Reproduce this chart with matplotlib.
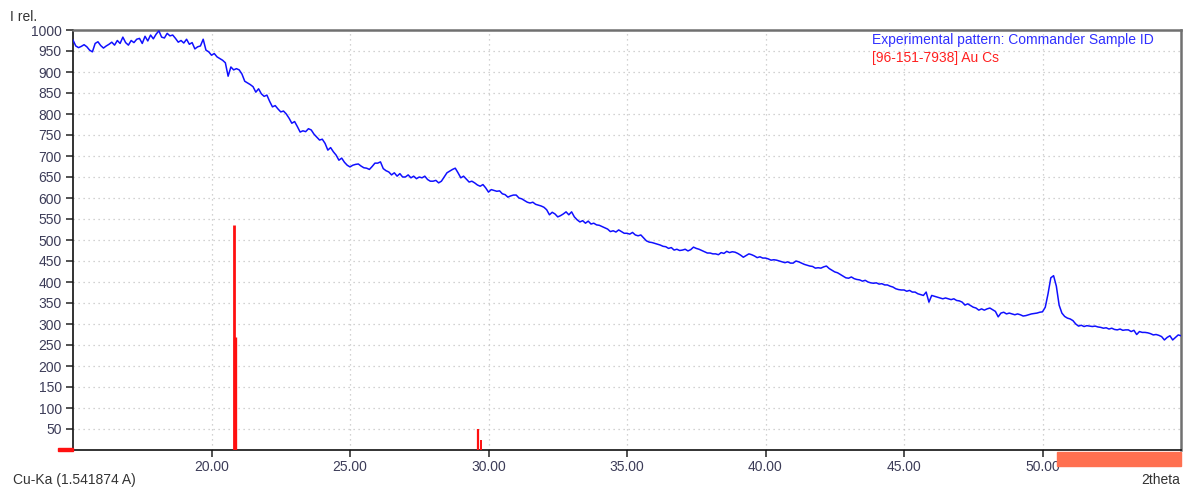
import numpy as np
import matplotlib
matplotlib.use('Agg')
import matplotlib.pyplot as plt
import matplotlib as mpl
from matplotlib.patches import Rectangle

mpl.rcParams['font.family'] = 'Liberation Sans'
mpl.rcParams['font.size'] = 10

# measured pattern, 2theta from 15.0 to 55.0 in 0.1 deg steps
two_theta = np.round(np.arange(15.0, 55.0 + 0.05, 0.1), 1)
intensity = [
    976, 962, 958, 961, 965, 960, 952, 948, 968, 972,   # 15
    963, 957, 962, 966, 971, 964, 975, 968, 983, 970,   # 16
    964, 975, 970, 978, 980, 968, 985, 974, 988, 979,   # 17
    990, 998, 983, 981, 992, 986, 988, 980, 971, 975,   # 18
    969, 978, 966, 970, 955, 960, 962, 978, 952, 948,   # 19
    940, 944, 936, 932, 928, 922, 890, 912, 905, 908,   # 20
    905, 895, 878, 874, 870, 865, 852, 860, 848, 842,   # 21
    845, 830, 817, 820, 812, 805, 807, 800, 790, 778,   # 22
    782, 770, 757, 760, 758, 765, 762, 752, 745, 738,   # 23
    740, 730, 714, 720, 710, 702, 690, 695, 685, 678,   # 24
    674, 678, 680, 681, 676, 672, 671, 668, 675, 683,   # 25
    683, 686, 670, 665, 662, 655, 660, 652, 658, 650,   # 26
    650, 655, 648, 652, 646, 650, 648, 652, 644, 640,   # 27
    640, 642, 636, 640, 650, 660, 664, 668, 671, 660,   # 28
    648, 652, 645, 638, 640, 636, 631, 628, 632, 624,   # 29
    614, 620, 618, 616, 617, 610, 608, 602, 605, 607,   # 30
    607, 600, 598, 594, 590, 588, 590, 585, 583, 581,   # 31
    578, 572, 560, 566, 562, 555, 558, 562, 567, 560,   # 32
    567, 555, 548, 543, 546, 540, 545, 538, 540, 536,   # 33
    535, 532, 529, 526, 520, 522, 519, 524, 520, 516,   # 34
    516, 514, 518, 512, 510, 512, 505, 498, 495, 494,   # 35
    492, 490, 488, 485, 484, 480, 482, 476, 478, 475,   # 36
    476, 478, 474, 477, 483, 480, 478, 475, 472, 469,   # 37
    469, 467, 467, 465, 470, 468, 473, 470, 472, 471,   # 38
    468, 464, 459, 463, 467, 465, 462, 458, 460, 457,   # 39
    457, 455, 452, 453, 452, 450, 448, 446, 448, 445,   # 40
    445, 450, 448, 445, 442, 440, 438, 437, 433, 434,   # 41
    433, 436, 438, 432, 428, 424, 422, 418, 414, 410,   # 42
    409, 412, 408, 406, 405, 402, 404, 400, 398, 397,   # 43
    398, 395, 396, 393, 393, 390, 388, 384, 382, 381,   # 44
    381, 378, 380, 376, 376, 372, 370, 368, 376, 352,   # 45
    368, 366, 364, 362, 360, 362, 360, 358, 360, 356,   # 46
    355, 352, 345, 348, 344, 340, 338, 333, 336, 333,   # 47
    336, 338, 334, 330, 317, 326, 328, 324, 326, 324,   # 48
    322, 324, 322, 319, 320, 322, 324, 325, 326, 328,   # 49
    329, 340, 372, 410, 415, 390, 345, 326, 318, 314,   # 50
    312, 308, 300, 295, 297, 294, 296, 295, 294, 295,   # 51
    293, 292, 290, 291, 288, 290, 287, 286, 288, 285,   # 52
    286, 286, 282, 285, 275, 282, 280, 280, 279, 277,   # 53
    274, 275, 273, 270, 262, 268, 272, 262, 268, 274,   # 54
    272,                                                # 55
]

# reference phase [96-151-7938] Au Cs, stick positions and heights
ref_pos = [20.82, 20.86, 29.62, 29.72]
ref_int = [535, 268, 50, 25]

xticks = [20, 25, 30, 35, 40, 45, 50]
yticks = list(range(50, 1001, 50))

fig = plt.figure(figsize=(11.92, 4.88), dpi=100)
ax = fig.add_axes([73/1192, 1 - 450/488, (1181 - 73)/1192, (450 - 30)/488])

ax.plot(two_theta, intensity, color='#1010ff', lw=1.1, zorder=3)
ax.vlines(ref_pos, 0, ref_int, colors='#ff1010', lw=[2.0, 2.4, 1.6, 1.4], zorder=4)

ax.set_xlim(15, 55)
ax.set_ylim(0, 1000)
ax.set_xticks(xticks)
ax.set_xticklabels(['%.2f' % v for v in xticks])
ax.set_yticks(yticks)
ax.grid(True, ls=(0, (1, 3)), color='#c4c4c4', lw=0.9)
ax.set_axisbelow(True)

lab_col = '#3c3c58'
ax.tick_params(axis='both', colors='#333333', labelcolor=lab_col, labelsize=10,
               length=5, width=1.2, direction='out')
ax.tick_params(axis='x', pad=2)
ax.tick_params(axis='y', pad=3)

for s in ['left', 'bottom']:
    ax.spines[s].set_color('#111111')
    ax.spines[s].set_linewidth(1.2)
for s in ['top', 'right']:
    ax.spines[s].set_color('#707070')
    ax.spines[s].set_linewidth(1.8)

ax.text(0.721, 0.976, 'Experimental pattern: Commander Sample ID', transform=ax.transAxes,
        color='#3030ff', fontsize=10, va='center')
ax.text(0.721, 0.933, '[96-151-7938] Au Cs', transform=ax.transAxes,
        color='#ff2020', fontsize=10, va='center')

fig.text(10/1192, 1 - 17/488, 'I rel.', color='#333333', fontsize=10, va='center')
fig.text(13/1192, 1 - 480/488, 'Cu-Ka (1.541874 A)', color='#333333', fontsize=10, va='center')
fig.text(1180/1192, 1 - 480/488, '2theta', color='#333333', fontsize=10, va='center', ha='right')

# marker at the origin and the scroll bar under the x axis
fig.patches.append(Rectangle((58/1192, 1 - 451/488), 15/1192, 3/488,
                             transform=fig.transFigure, color='#ff1010', zorder=5))
fig.patches.append(Rectangle((1057/1192, 1 - 466/488), 124/1192, 14/488,
                             transform=fig.transFigure, color='#ff7050', zorder=5))

fig.savefig('out.png', dpi=100)
